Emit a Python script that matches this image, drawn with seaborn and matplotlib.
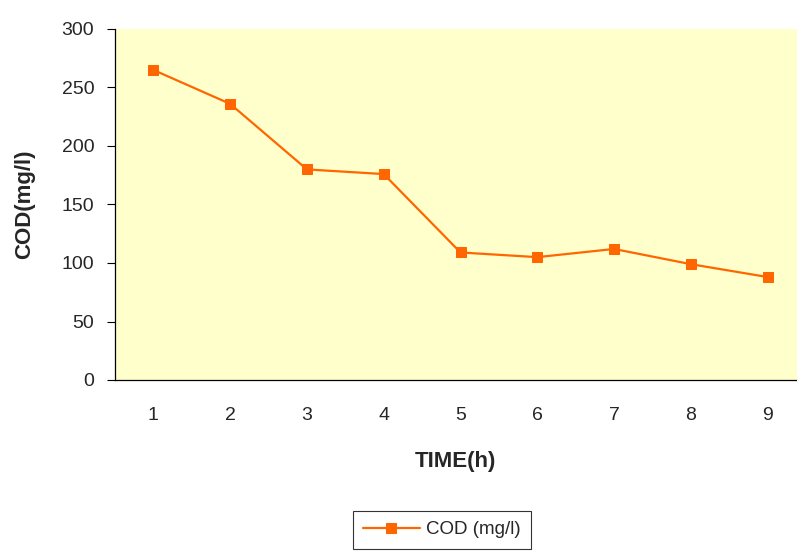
import matplotlib
matplotlib.use("Agg")
import matplotlib.pyplot as plt
import seaborn as sns
import numpy as np
import pandas as pd

time_h = [1, 2, 3, 4, 5, 6, 7, 8, 9]
cod_mg_l = [265, 236, 180, 176, 109, 105, 112, 99, 88]
y_ticks = [0, 50, 100, 150, 200, 250, 300]
series_name = "COD (mg/l)"

sns.set_style("white")
plt.rcParams["font.family"] = ["Liberation Sans", "DejaVu Sans"]

df = pd.DataFrame({"TIME(h)": time_h, "COD": cod_mg_l})

fig = plt.figure(figsize=(7.97, 5.52), dpi=100)
W, H = 797, 552
ax = fig.add_axes([115 / W, 1 - 380 / H, (806 - 115) / W, (380 - 29) / H])
ax.set_facecolor("#FFFFCC")

sns.lineplot(data=df, x="TIME(h)", y="COD", ax=ax, color="#FF6600", linewidth=1.6,
             marker="s", markersize=7.5, markeredgecolor="#FF6600", label=series_name,
             legend=False)

ax.set_xlim(0.5, 9.5)
ax.set_ylim(0, 300)
ax.set_yticks(y_ticks)
ax.set_xticks(np.arange(0.5, 10, 1.0))
ax.set_xticklabels([])
ax.set_xticks(time_h, minor=True)
ax.set_xticklabels([str(t) for t in time_h], minor=True)

ax.tick_params(axis="x", which="major", direction="inout", length=11.5, width=0.8, color="black")
ax.tick_params(axis="x", which="minor", length=0, pad=19.5, labelsize=14)
ax.tick_params(axis="y", direction="out", length=6, width=0.8, color="black", pad=9, labelsize=14, left=True)

for s in ["top", "right"]:
    ax.spines[s].set_visible(False)
for s in ["left", "bottom"]:
    ax.spines[s].set_color("black")
    ax.spines[s].set_linewidth(0.9)

ax.set_xlabel("TIME(h)", fontsize=16, fontweight="bold")
ax.set_ylabel("COD(mg/l)", fontsize=16, fontweight="bold")
ax.xaxis.set_label_coords((455 - 115) / (806 - 115), -(451 - 380) / (380 - 29))
ax.yaxis.set_label_coords(-(115 - 35) / (806 - 115), 0.5)

handles, labels = ax.get_legend_handles_labels()
leg = fig.legend(handles, labels, loc="upper left", bbox_to_anchor=(353 / W, 1 - 511 / H),
                 fontsize=13.5, frameon=True, fancybox=False, handlelength=3.0,
                 borderpad=0.55, handletextpad=0.35, borderaxespad=0)
leg.get_frame().set_edgecolor("black")
leg.get_frame().set_linewidth(0.8)

fig.savefig("out.png", dpi=100)
